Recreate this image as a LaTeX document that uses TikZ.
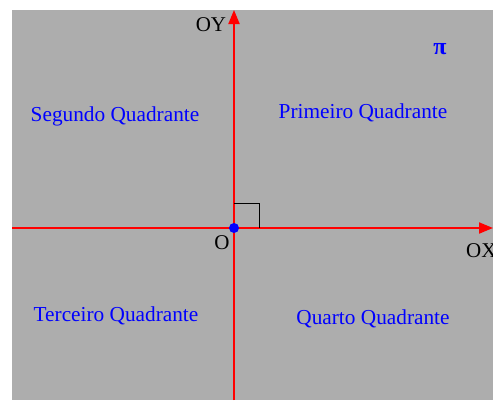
\documentclass[tikz,border=0pt]{standalone}
\usepackage{fontspec}
\setmainfont{Liberation Serif}
\usetikzlibrary{arrows.meta}
\definecolor{bggray}{RGB}{173,173,173}
\tikzset{
  axis/.style={red, line width=2pt, -{Triangle[length=14pt,width=11pt]}},
  quad/.style={blue, font=\fontsize{21.3}{25}\selectfont, inner sep=0pt},
  lbl/.style={black, font=\fontsize{21}{24}\selectfont, inner sep=0pt},
}
\begin{document}
\begin{tikzpicture}[x=1pt,y=-1pt]
\useasboundingbox (0,0) rectangle (493,400);
\fill[bggray] (12,10) rectangle (493,400);
\coordinate (xl) at (12,228);
\coordinate (xr) at (493,228);
\coordinate (yb) at (234,400);
\coordinate (yt) at (234,10);
\draw[axis] (xl) -- (xr);
\draw[axis] (yb) -- (yt);
\coordinate (o) at (234,228);
\draw[black, line width=1pt] (234,203) -- (259,203) -- (259,228);
\fill[blue] (o) circle (5);
\node[lbl] (lo) at (222,243) {O};
\node[lbl] (loy) at (211,25) {OY};
\node[lbl, anchor=west] (lox) at (466,251) {OX};
\node[quad, font=\fontsize{24}{26}\selectfont\bfseries] (pi) at (440,49) {π};
\node[quad] (q2) at (115,116) {Segundo Quadrante};
\node[quad] (q1) at (363,113) {Primeiro Quadrante};
\node[quad] (q3) at (116,316) {Terceiro Quadrante};
\node[quad] (q4) at (373,319) {Quarto Quadrante};
\end{tikzpicture}
\end{document}
